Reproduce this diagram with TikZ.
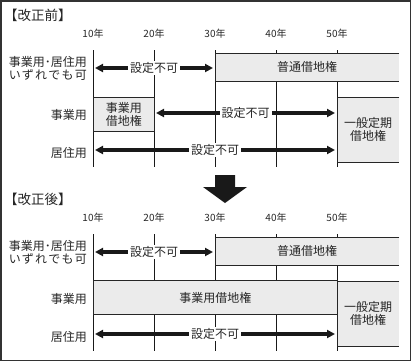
\documentclass[tikz,border=0pt]{standalone}
\usepackage{fontspec}
\usepackage{calc}
\newfontfamily\jp{Noto Sans CJK JP}
\usetikzlibrary{arrows.meta}

\begin{document}
\begin{tikzpicture}[x=1pt,y=-1pt]
  \tikzset{
    lbl/.style={font=\jp\fontsize{12}{13.5}\selectfont, text=black!85, inner sep=0pt},
    yr/.style={font=\jp\fontsize{10}{12}\selectfont, text=black!85, inner sep=0pt},
    ttl/.style={font=\jp\fontsize{13.5}{15}\selectfont, text=black!85, inner sep=0pt, anchor=west},
    kind/.style={lbl, anchor=east, align=right},
    grd/.style={line width=0.9pt, black!90},
    term/.style={lbl, fill=gray!16, align=center, anchor=north west},
    edge/.style={line width=0.9pt, black!85},
    ban/.style={arrows={Triangle[length=8pt,width=8pt]-Triangle[length=8pt,width=8pt]},
      line width=3.6pt, black!90, shorten <=2pt, shorten >=2pt},
    nogo/.style={lbl, fill=white, inner xsep=2pt, inner ysep=1pt},
  }
  \useasboundingbox (0,0) rectangle (412,362);
  \draw[line width=1.2pt, black!80] (1,1) rectangle (410.5,360.5);

  \foreach \s/\dy/\t in {pre/0/改正前, post/184/改正後}{
    \begin{scope}[shift={(0,\dy)}]
      \node[ttl] (\s-ttl) at (4,15) {【{\t}】};

      % years and grid
      \foreach \n in {10,20,30,40,50}{
        \node[yr] (\s-y\n) at ({93+6.1*(\n-10)},34) {{\n}年};
        \draw[grd] ({93+6.1*(\n-10)},50) -- ({93+6.1*(\n-10)},167);
      }

      % row labels
      \node[kind] (\s-k1) at (87,68.5)
        {事業用･居住用\\\makebox[\widthof{事業用･居住用}][s]{い\hfil ず\hfil れ\hfil で\hfil も\hfil 可}};
      \node[kind] (\s-k2) at (87,115) {事業用};
      \node[kind] (\s-k3) at (87,153) {居住用};

      % open boxes
      \node[term, minimum width=184, minimum height=28] (\s-futsu) at (215,53) {普通借地権};
      \draw[edge] (\s-futsu.north east) -- (\s-futsu.north west) -- (\s-futsu.south west) -- (\s-futsu.south east);
      \node[term, minimum width=62, minimum height=65] (\s-ippan) at (337,97) {一般定期\\借地権};
      \draw[edge] (\s-ippan.north east) -- (\s-ippan.north west) -- (\s-ippan.south west) -- (\s-ippan.south east);

      % arrows
      \coordinate (\s-a1l) at (93,68);
      \coordinate (\s-a1r) at (215,68);
      \coordinate (\s-a3l) at (93,150);
      \coordinate (\s-a3r) at (337,150);
      \draw[ban] (\s-a1l) -- node[nogo] (\s-n1) {設定不可} (\s-a1r);
      \draw[ban] (\s-a3l) -- node[nogo] (\s-n3) {設定不可} (\s-a3r);
    \end{scope}
  }

  % before: business row
  \node[term, draw=black!85, line width=0.9pt, minimum width=61, minimum height=34] (pre-jigyo) at (93,97) {事業用\\借地権};
  \coordinate (pre-a2l) at (154,113);
  \coordinate (pre-a2r) at (337,113);
  \draw[ban] (pre-a2l) -- node[nogo] (pre-n2) {設定不可} (pre-a2r);

  % after: business row
  \node[term, draw=black!85, line width=0.9pt, minimum width=244, minimum height=34] (post-jigyo) at (93,280) {事業用借地権};

  % big arrow
  \fill[black!90] (215,175) -- (235,175) -- (235,187) -- (247,187) -- (225,203) -- (203,187) -- (215,187) -- cycle;
\end{tikzpicture}
\end{document}
